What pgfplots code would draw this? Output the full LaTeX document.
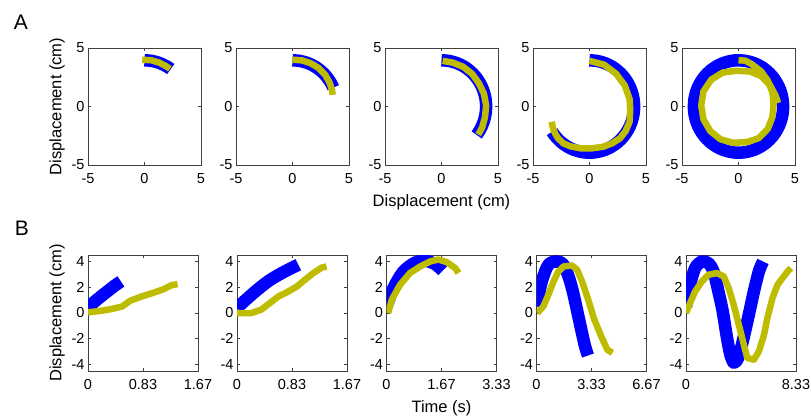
\documentclass[border=0pt]{standalone}
\usepackage{pgfplots}
\pgfplotsset{compat=1.18}
\usepackage{fontspec}
\setmainfont{Liberation Sans}
\definecolor{myblue}{RGB}{0,0,255}
\definecolor{myyel}{RGB}{190,188,0}
\pgfplotsset{
  base/.style={scale only axis, anchor=south west,
    axis line style={black!75, line width=0.7pt},
    tick align=inside, major tick length=3pt,
    every tick/.style={black!75, line width=0.6pt},
    tick label style={font=\fontsize{14.5}{16}\selectfont},
    /pgf/number format/assume math mode=true,
    xticklabel style={yshift=-5pt},
    label style={font=\fontsize{16.5}{19}\selectfont},
    xlabel style={yshift=-4pt},
  },
  blueband/.style={myblue, line width=12.5pt, line join=round, line cap=butt, mark=none, smooth},
  yelline/.style={myyel, line width=6.5pt, line join=round, line cap=butt, mark=none},
  toprow/.style={base, width=113pt, height=117pt,
    xmin=-5, xmax=5, ymin=-5, ymax=5,
    xtick={-5,0,5}, ytick={-5,0,5}, xticklabels={-5,0,5}, yticklabels={-5,0,5}},
  botrow/.style={base, width=110pt, height=116pt,
    xmin=0, ymin=-4.5, ymax=4.5,
    ytick={-4,-2,0,2,4}, yticklabels={-4,-2,0,2,4}},
}
\begin{document}
\begin{tikzpicture}[x=1pt,y=1pt]
\useasboundingbox (0,0) rectangle (811,420);
\node[font=\fontsize{21}{24}\selectfont] at (21,398) {A};
\node[font=\fontsize{21}{24}\selectfont] at (22,192) {B};

% ---------- Row A ----------
\begin{axis}[toprow, at={(88pt,255pt)}, ylabel={Displacement (cm)}]
\addplot[blueband] coordinates {(0,3.95)(0.686,3.890)(1.351,3.712)(1.975,3.421)(2.322,3.196)};
\addplot[yelline] coordinates {(-0.2,4.0)(0.6,3.95)(1.3,3.75)(1.9,3.45)(2.25,3.22)};
\end{axis}

\begin{axis}[toprow, at={(236pt,255pt)}]
\addplot[blueband] coordinates {(0,3.95)(0.686,3.890)(1.351,3.712)(1.975,3.421)(2.539,3.026)(3.026,2.539)(3.421,1.975)(3.608,1.607)};
\addplot[yelline] coordinates {(0,4.0)(0.8,3.95)(1.6,3.7)(2.3,3.3)(2.9,2.7)(3.3,2.0)(3.5,1.4)(3.55,1.0)};
\end{axis}

\begin{axis}[toprow, at={(385pt,255pt)}, xlabel={Displacement (cm)}]
\addplot[blueband] coordinates {(0,3.95)(0.686,3.890)(1.351,3.712)(1.975,3.421)(2.539,3.026)(3.026,2.539)(3.421,1.975)(3.712,1.351)(3.890,0.686)(3.95,0)(3.890,-0.686)(3.712,-1.351)(3.421,-1.975)(3.113,-2.432)};
\addplot[yelline] coordinates {(0.1,3.9)(1.0,3.75)(1.9,3.4)(2.7,2.8)(3.3,2.0)(3.75,1.1)(3.95,0.1)(3.85,-0.9)(3.6,-1.8)(3.25,-2.4)};
\end{axis}

\begin{axis}[toprow, at={(533pt,255pt)}]
\addplot[blueband] coordinates {(0,3.95)(0.686,3.890)(1.351,3.712)(1.975,3.421)(2.539,3.026)(3.026,2.539)(3.421,1.975)(3.712,1.351)(3.890,0.686)(3.95,0)(3.890,-0.686)(3.712,-1.351)(3.421,-1.975)(3.026,-2.539)(2.539,-3.026)(1.975,-3.421)(1.351,-3.712)(0.686,-3.890)(0,-3.95)(-0.686,-3.890)(-1.351,-3.712)(-1.975,-3.421)(-2.539,-3.026)(-3.026,-2.539)(-3.313,-2.151)};
\addplot[yelline] coordinates {(0,3.9)(1.3,3.57)(2.35,2.8)(3.12,1.8)(3.55,0.63)(3.6,-0.3)(3.55,-1.3)(3.2,-2.1)(2.7,-2.72)(2.0,-3.15)(1.22,-3.44)(0.2,-3.58)(-0.84,-3.57)(-1.7,-3.4)(-2.32,-3.15)(-2.8,-2.7)(-3.05,-2.29)(-3.25,-1.8)(-3.34,-1.3)};
\end{axis}

\begin{axis}[toprow, at={(682pt,255pt)}]
\addplot[blueband] coordinates {(0,3.95)(0.686,3.890)(1.351,3.712)(1.975,3.421)(2.539,3.026)(3.026,2.539)(3.421,1.975)(3.712,1.351)(3.890,0.686)(3.95,0)(3.890,-0.686)(3.712,-1.351)(3.421,-1.975)(3.026,-2.539)(2.539,-3.026)(1.975,-3.421)(1.351,-3.712)(0.686,-3.890)(0,-3.95)(-0.686,-3.890)(-1.351,-3.712)(-1.975,-3.421)(-2.539,-3.026)(-3.026,-2.539)(-3.421,-1.975)(-3.712,-1.351)(-3.890,-0.686)(-3.95,0)(-3.890,0.686)(-3.712,1.351)(-3.421,1.975)(-3.026,2.539)(-2.539,3.026)(-1.975,3.421)(-1.351,3.712)(-0.686,3.890)(0,3.95)(0.686,3.890)};
\addplot[yelline] coordinates {(0.0,3.95)(0.6,3.92)(1.2,3.6)(2.0,3.0)(2.6,2.2)(3.0,1.2)(3.1,0.2)(3.0,-0.9)(2.6,-1.9)(1.8,-2.7)(0.7,-3.05)(-0.5,-3.1)(-1.6,-2.8)(-2.5,-2.1)(-3.1,-1.1)(-3.3,0.1)(-3.1,1.3)(-2.4,2.3)(-1.4,2.9)(-0.2,3.05)(1.0,3.0)(2.0,2.6)(2.8,1.8)(3.3,0.9)(3.5,0.3)};
\end{axis}

% ---------- Row B ----------
\begin{axis}[botrow, at={(88pt,49pt)}, xmax=1.67, xtick={0,0.835,1.67}, xticklabels={0,0.83,1.67}, ylabel={Displacement (cm)}]
\addplot[blueband] coordinates {(0,0.45)(0.1,0.88)(0.2,1.3)(0.3,1.7)(0.4,2.1)(0.5,2.45)};
\addplot[yelline] coordinates {(0,0.05)(0.21,0.18)(0.36,0.31)(0.52,0.51)(0.64,0.95)(0.82,1.29)(0.98,1.55)(1.13,1.81)(1.26,2.14)(1.36,2.25)};
\end{axis}

\begin{axis}[botrow, at={(237pt,49pt)}, xmax=1.67, xtick={0,0.835,1.67}, xticklabels={0,0.83,1.67}]
\addplot[blueband] coordinates {(0,0.4)(0.25,1.55)(0.47,2.45)(0.68,3.1)(0.93,3.75)};
\addplot[yelline] coordinates {(0,0)(0.22,0.0)(0.37,0.26)(0.5,0.78)(0.63,1.29)(0.78,1.67)(0.91,2.06)(1.03,2.58)(1.16,3.1)(1.29,3.53)(1.36,3.61)};
\end{axis}

\begin{axis}[botrow, at={(386.5pt,49pt)}, xmax=3.33, xtick={0,1.665,3.33}, xticklabels={0,1.67,3.33}, xlabel={Time (s)}]
\addplot[blueband] coordinates {(0,0.5)(0.21,1.94)(0.51,3.22)(0.86,3.9)(1.17,4.05)(1.47,3.8)(1.70,3.28)};
\addplot[yelline] coordinates {(0.05,0.0)(0.16,1.03)(0.41,2.19)(0.71,3.1)(1.02,3.61)(1.32,4.0)(1.57,4.15)(1.82,3.95)(2.08,3.49)(2.18,3.1)};
\end{axis}

\begin{axis}[botrow, at={(536.5pt,49pt)}, xmax=6.67, xtick={0,3.335,6.67}, xticklabels={0,3.33,6.67}]
\addplot[blueband] coordinates {(0,0.5)(0.32,2.45)(0.72,3.74)(1.23,4.0)(1.64,3.75)(1.99,2.65)(2.25,1.42)(2.56,-0.39)(2.92,-2.46)(3.12,-3.3)};
\addplot[yelline] coordinates {(0.05,0)(0.42,0.52)(0.72,1.42)(1.03,2.45)(1.33,3.22)(1.64,3.61)(2.15,3.69)(2.46,3.36)(2.76,2.45)(3.17,0.9)(3.47,-0.39)(3.88,-1.68)(4.29,-2.84)(4.6,-3.1)};
\end{axis}

\begin{axis}[botrow, at={(686pt,49pt)}, xmax=8.33, xtick={0,8.33}, xticklabels={0,8.33}]
\addplot[blueband] coordinates {(0,0.5)(0.31,2.19)(0.69,3.49)(1.2,4.0)(1.71,3.85)(2.09,3.2)(2.47,1.6)(2.78,0.12)(3.1,-1.9)(3.35,-3.2)(3.61,-3.85)(3.9,-3.6)(4.2,-2.6)(4.5,-1.3)(4.81,0.12)(5.14,1.67)(5.52,3.23)(5.83,4.0)};
\addplot[yelline] coordinates {(0,0)(0.31,0.78)(0.69,1.67)(1.2,2.45)(1.71,2.97)(2.34,3.1)(2.85,2.84)(3.23,1.94)(3.61,0.64)(4.0,-0.91)(4.38,-2.46)(4.64,-3.49)(5.14,-3.62)(5.52,-2.98)(5.91,-1.68)(6.16,-0.39)(6.55,1.16)(6.93,2.19)(7.31,2.71)(7.69,3.22)(7.94,3.49)};
\end{axis}
\end{tikzpicture}
\end{document}
